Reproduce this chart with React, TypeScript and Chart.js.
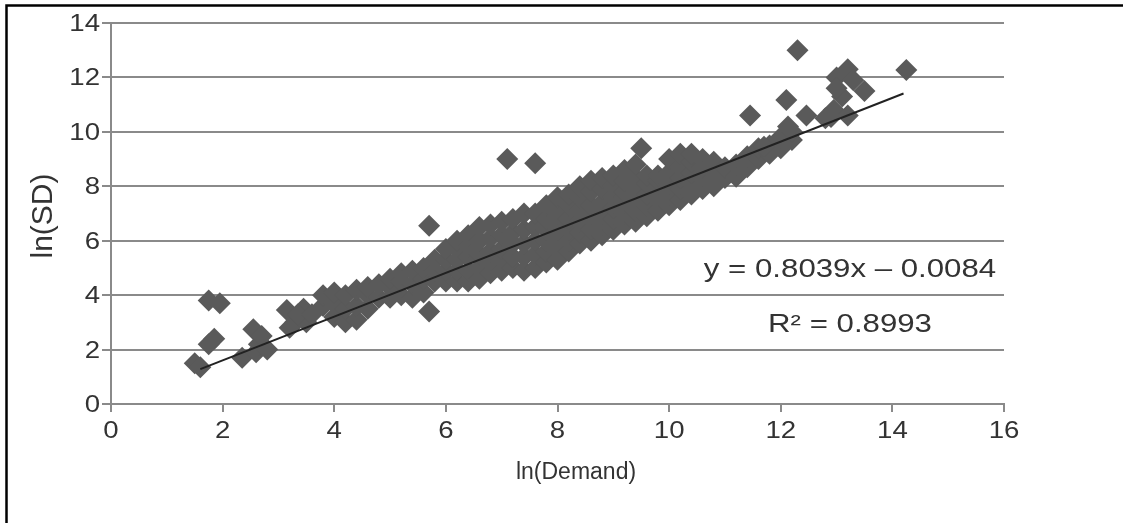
import { useEffect, useRef } from "react";
import { Chart, registerables } from "chart.js";

Chart.register(...registerables);

// ---- axis ticks & texts ----
const xTickValues = [0, 2, 4, 6, 8, 10, 12, 14, 16];
const xTickLabels = ["0", "2", "4", "6", "8", "10", "12", "14", "16"];
const yTickValues = [0, 2, 4, 6, 8, 10, 12, 14];
const yTickLabels = ["0", "2", "4", "6", "8", "10", "12", "14"];
const xAxisTitle = "ln(Demand)";
const yAxisTitle = "ln(SD)";
const equationText = "y = 0.8039x – 0.0084";
const r2Text = "R² = 0.8993";

// ---- data: sparse low end ----
const lowX = [1.5, 1.6, 1.75, 1.85, 1.75, 1.95, 2.35, 2.55, 2.6, 2.65, 2.8, 2.7];
const lowY = [1.5, 1.35, 2.2, 2.4, 3.8, 3.7, 1.7, 2.75, 1.9, 2.2, 2.0, 2.5];

const smallClusterX = [3.15, 3.45, 3.3, 3.2, 3.5, 3.35, 3.6];
const smallClusterY = [3.45, 3.5, 3.0, 2.8, 3.0, 3.3, 3.3];

// ---- main band, by ln(Demand) column ----
const bandX = [3.8, 4.0, 4.2, 4.4, 4.6, 4.8, 5.0, 5.2, 5.4, 5.6, 5.8, 6.0, 6.2, 6.4, 6.6, 6.8, 7.0, 7.2, 7.4, 7.6, 7.8, 8.0, 8.2, 8.4, 8.6, 8.8, 9.0, 9.2, 9.4, 9.5, 9.6, 9.8, 10.0, 10.2, 10.4, 10.6, 10.8, 11.0, 11.2, 11.4, 11.6, 11.8, 12.0, 12.2];
const bandY = [
  [3.6, 4.0],
  [3.2, 3.7, 4.1],
  [3.0, 3.5, 4.0],
  [3.1, 3.6, 4.2],
  [3.5, 4.0, 4.3],
  [3.9, 4.4],
  [3.9, 4.3, 4.6],
  [4.0, 4.5, 4.8],
  [3.9, 4.4, 4.9],
  [4.1, 4.6, 5.0],
  [4.5, 4.9, 5.3],
  [4.5, 4.9, 5.3, 5.7],
  [4.5, 4.9, 5.3, 5.7, 6.0],
  [4.5, 4.9, 5.4, 5.8, 6.2],
  [4.6, 5.0, 5.5, 6.0, 6.5],
  [4.8, 5.2, 5.6, 6.1, 6.6],
  [4.9, 5.3, 5.7, 6.2, 6.7],
  [5.0, 5.4, 5.9, 6.3, 6.8],
  [4.9, 5.4, 5.9, 6.4, 7.0],
  [5.0, 5.5, 6.0, 6.5, 7.0],
  [5.2, 5.6, 6.0, 6.4, 6.8, 7.3],
  [5.3, 5.7, 6.1, 6.5, 7.0, 7.6],
  [5.6, 6.0, 6.4, 6.8, 7.3, 7.7],
  [5.9, 6.3, 6.7, 7.1, 7.6, 8.0],
  [6.0, 6.4, 6.8, 7.3, 7.8, 8.2],
  [6.2, 6.6, 7.0, 7.4, 7.9, 8.3],
  [6.4, 6.8, 7.2, 7.6, 8.0, 8.4],
  [6.6, 7.0, 7.4, 7.8, 8.2, 8.6],
  [6.7, 7.1, 7.5, 7.9, 8.3, 8.8],
  [9.4],
  [6.9, 7.3, 7.7, 8.1, 8.4],
  [7.1, 7.5, 7.9, 8.2, 8.4],
  [7.3, 7.7, 8.1, 8.5, 9.0],
  [7.5, 7.9, 8.3, 8.7, 9.2],
  [7.7, 8.1, 8.5, 8.9, 9.2],
  [7.9, 8.3, 8.7, 9.0],
  [8.0, 8.5, 8.9],
  [8.3, 8.7],
  [8.35, 8.8],
  [8.7, 9.1],
  [9.0, 9.4],
  [9.2, 9.5],
  [9.4, 9.8],
  [9.7, 10.0],
];

// ---- upper cluster and outliers ----
const topClusterX = [13.0, 13.2, 13.3, 13.5, 13.1, 12.95, 13.2, 12.8, 13.0];
const topClusterY = [12.0, 12.3, 11.9, 11.5, 11.3, 10.8, 10.6, 10.5, 11.6];
const outlierX = [11.45, 12.1, 12.46, 12.3, 14.25, 12.9, 12.13, 11.7, 5.7, 5.7, 7.1, 7.6];
const outlierY = [10.6, 11.17, 10.6, 13.0, 12.27, 10.55, 10.2, 9.45, 6.55, 3.4, 9.0, 8.85];

// ---- trend line end points ----
const trendX = [1.6, 14.2];
const trendY = [1.28, 11.41];

const FONT = "'Liberation Sans', Arial, sans-serif";
const SX = 1.2;
const TEXT_COLOR = "#333333";
const GRID_COLOR = "#8a8a8a";

function pairs(xs: number[], ys: number[]) {
  return xs.map((x, i) => ({ x, y: ys[i] }));
}

function drawText(ctx: CanvasRenderingContext2D, text: string, x: number, y: number, size: number, align: CanvasTextAlign, sx = SX) {
  ctx.save();
  ctx.font = `${size}px ${FONT}`;
  ctx.translate(x, y);
  ctx.scale(sx, 1);
  ctx.textAlign = align;
  ctx.textBaseline = "alphabetic";
  ctx.fillStyle = TEXT_COLOR;
  ctx.fillText(text, 0, 0);
  ctx.restore();
}

const decorPlugin = {
  id: "decor",
  afterDraw(chart: any) {
    const ctx: CanvasRenderingContext2D = chart.ctx;
    const xs = chart.scales.x;
    const ys = chart.scales.y;
    xTickValues.forEach((v, i) => drawText(ctx, xTickLabels[i], xs.getPixelForValue(v), 438, 23, "center"));
    yTickValues.forEach((v, i) => drawText(ctx, yTickLabels[i], 100, ys.getPixelForValue(v) + 8, 23, "right"));
    drawText(ctx, xAxisTitle, 576, 479, 23, "center", 1.0);
    ctx.save();
    ctx.translate(52, 216);
    ctx.rotate(-Math.PI / 2);
    ctx.font = `30px ${FONT}`;
    ctx.textAlign = "center";
    ctx.textBaseline = "alphabetic";
    ctx.fillStyle = TEXT_COLOR;
    ctx.fillText(yAxisTitle, 0, 0);
    ctx.restore();
    drawText(ctx, equationText, 850, 277, 26, "center");
    drawText(ctx, r2Text, 850, 332, 26, "center");
    ctx.save();
    ctx.strokeStyle = "#000";
    ctx.lineWidth = 2.5;
    ctx.beginPath();
    ctx.moveTo(6.5, 523);
    ctx.lineTo(6.5, 5.5);
    ctx.lineTo(1123, 5.5);
    ctx.stroke();
    ctx.restore();
  },
};

export default function App() {
  const ref = useRef<HTMLCanvasElement>(null);
  useEffect(() => {
    document.body.style.margin = "0";
    const canvas = ref.current!;
    const scatterData = [
      ...pairs(lowX, lowY),
      ...pairs(smallClusterX, smallClusterY),
      ...bandX.flatMap((x, i) => bandY[i].map((y) => ({ x, y }))),
      ...pairs(topClusterX, topClusterY),
      ...pairs(outlierX, outlierY),
    ];
    const chart = new Chart(canvas, {
      type: "scatter",
      data: {
        datasets: [
          {
            type: "line",
            data: pairs(trendX, trendY),
            borderColor: "#222222",
            borderWidth: 2,
            pointRadius: 0,
            fill: false,
            order: 0,
          } as any,
          {
            type: "scatter",
            data: scatterData,
            pointStyle: "rectRot",
            pointRadius: 11,
            backgroundColor: "#5a5a5a",
            borderWidth: 0,
            order: 1,
          } as any,
        ],
      },
      options: {
        responsive: false,
        animation: false,
        devicePixelRatio: 1,
        layout: { padding: { left: 0, top: 23, right: 119, bottom: 0 } },
        plugins: { legend: { display: false }, tooltip: { enabled: false } },
        scales: {
          x: {
            type: "linear",
            position: "bottom",
            min: 0,
            max: 16,
            ticks: { stepSize: 2, display: false },
            grid: { drawOnChartArea: false, drawTicks: true, tickLength: 8, color: GRID_COLOR, lineWidth: 2 },
            border: { display: true, color: GRID_COLOR, width: 2 },
            afterFit: (s: any) => {
              s.height = 119;
            },
          },
          y: {
            type: "linear",
            min: 0,
            max: 14,
            ticks: { stepSize: 2, display: false },
            grid: { drawOnChartArea: true, drawTicks: true, tickLength: 9, color: GRID_COLOR, lineWidth: 2 },
            border: { display: true, color: GRID_COLOR, width: 2 },
            afterFit: (s: any) => {
              s.width = 111;
            },
          },
        },
      } as any,
      plugins: [decorPlugin],
    });
    return () => chart.destroy();
  }, []);
  return (
    <div style={{ width: 1123, height: 523, overflow: "hidden", background: "#fff" }}>
      <canvas ref={ref} width={1123} height={523} style={{ display: "block" }} />
    </div>
  );
}
